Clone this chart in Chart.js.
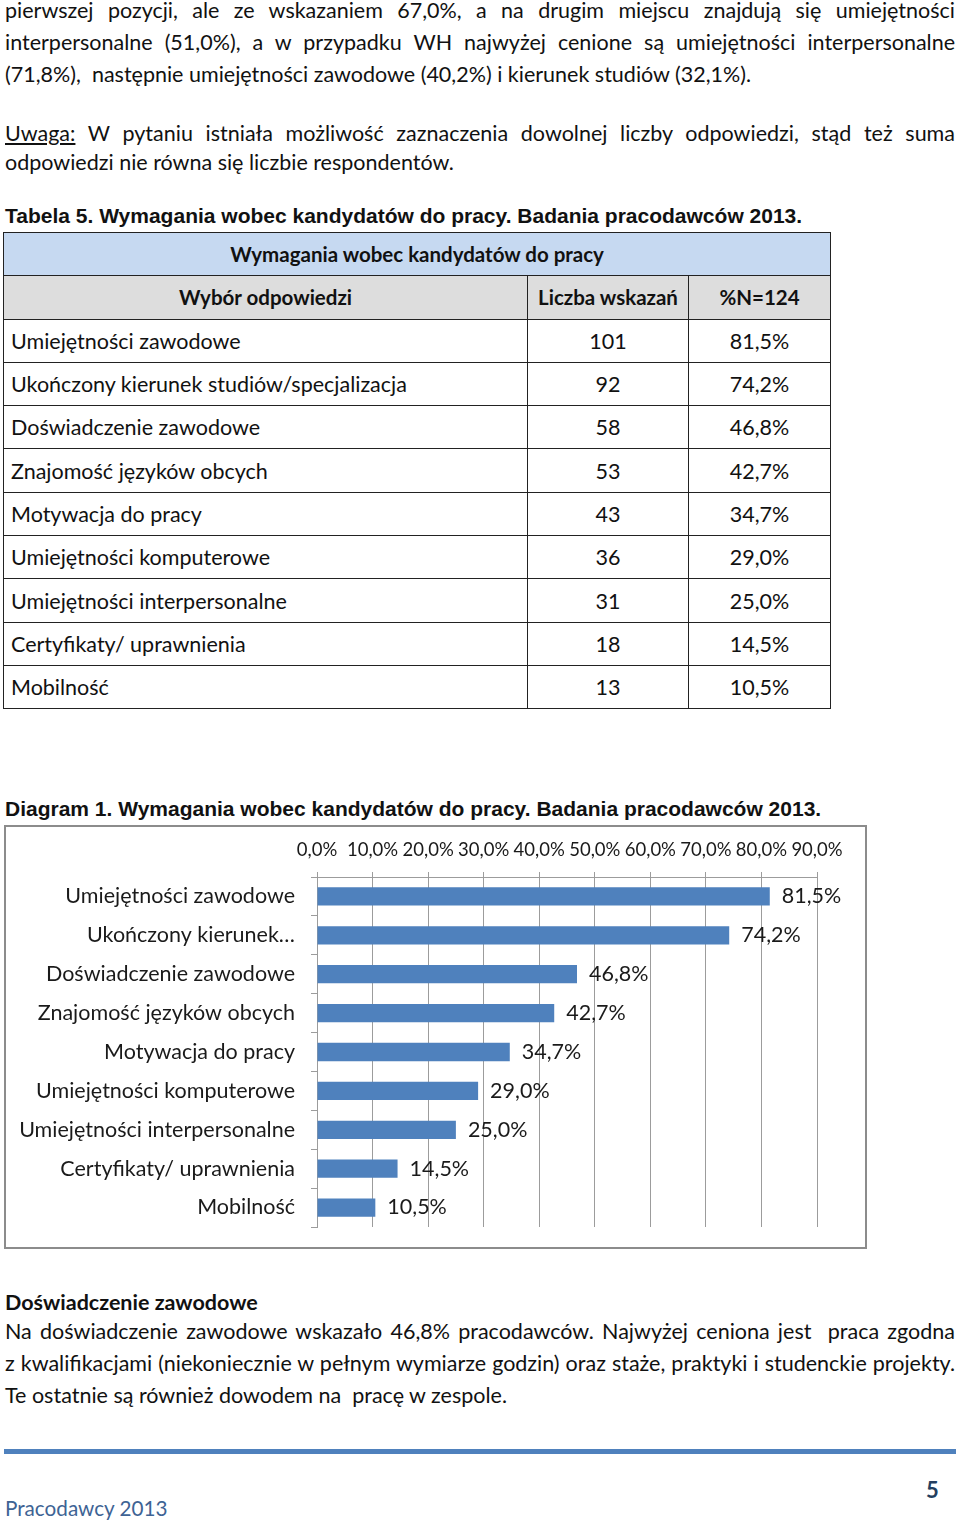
<!DOCTYPE html>
<html lang="pl">
<head>
<meta charset="utf-8">
<title>Wymagania wobec kandydatów do pracy</title>
<script src="https://cdn.jsdelivr.net/npm/chart.js@4.4.1/dist/chart.umd.min.js"></script>
<style>
    html, body { margin: 0; padding: 0; background: #fff; }
    body { width: 960px; height: 1524px; position: relative; overflow: hidden;
           font-family: Lato, "Open Sans", sans-serif; color: #111; }
    .blk { position: absolute; left: 5px; width: 950px; font-size: 21.5px; }
    .just { text-align: justify; text-align-last: justify; }
    .caption { position: absolute; left: 5px; font-family: "Liberation Sans", Arial, sans-serif;
               font-weight: bold; font-size: 21px; line-height: 24px; color: #111; }
    #reqTable { position: absolute; left: 3px; top: 232px; border-collapse: collapse;
                width: 828px; font-size: 21.5px; table-layout: fixed; }
    #reqTable tr { height: 43.3px; }
    #reqTable td, #reqTable th { border: 1px solid #222; padding: 0 7px; white-space: nowrap; }
    #reqTable th { font-weight: bold; text-align: center; font-size: 20.5px; padding: 0 2px; }
    #reqTable .h1 th { background: #c6d9f1; }
    #reqTable .h2 th { background: #dddddd; }
    #reqTable td.num { text-align: center; }
    #chartBox { position: absolute; left: 4px; top: 825px; width: 863px; height: 424px;
                border: 2px solid #8c8c8c; box-sizing: border-box; }
    #diagChart { position: absolute; left: 0; top: 820px; }
    #footLine { position: absolute; left: 4px; top: 1449px; width: 952px; height: 5px; background: #4f81bd; }
    #pageNo { position: absolute; left: 926px; top: 1476px; font-weight: bold; font-size: 22px; color: #243f60; }
    #footer { position: absolute; left: 5px; top: 1496px; font-size: 20.7px; color: #3e6394; }
</style>
</head>
<body>

<div class="blk" style="top:-6px; line-height:32px;">
    <div class="just">pierwszej pozycji, ale ze wskazaniem 67,0%, a na drugim miejscu znajdują się umiejętności</div>
    <div class="just">interpersonalne (51,0%), a w przypadku WH najwyżej cenione są umiejętności interpersonalne</div>
    <div>(71,8%), &nbsp;następnie umiejętności zawodowe (40,2%) i kierunek studiów (32,1%).</div>
</div>

<div class="blk" style="top:119px; line-height:29px;">
    <div class="just"><u>Uwaga:</u> W pytaniu istniała możliwość zaznaczenia dowolnej liczby odpowiedzi, stąd też suma</div>
    <div>odpowiedzi nie równa się liczbie respondentów.</div>
</div>

<div class="caption" style="top:204px;">Tabela 5. Wymagania wobec kandydatów do pracy. Badania pracodawców 2013.</div>

<table id="reqTable">
    <colgroup><col style="width:524px"><col style="width:161px"><col style="width:142px"></colgroup>
    <thead>
        <tr class="h1"><th colspan="3">Wymagania wobec kandydatów do pracy</th></tr>
        <tr class="h2"><th>Wybór odpowiedzi</th><th>Liczba wskazań</th><th>%N=124</th></tr>
    </thead>
    <tbody></tbody>
</table>

<div class="caption" style="top:797px;">Diagram 1. Wymagania wobec kandydatów do pracy. Badania pracodawców 2013.</div>

<div id="chartBox"></div>
<canvas id="diagChart" width="960" height="440" style="width:960px;height:440px;"></canvas>

<div class="blk" style="top:1286px; line-height:32px; font-weight:bold;">Doświadczenie zawodowe</div>
<div class="blk" style="top:1315px; line-height:32px;">
    <div class="just">Na doświadczenie zawodowe wskazało 46,8% pracodawców. Najwyżej ceniona jest &nbsp;praca zgodna</div>
    <div class="just">z kwalifikacjami (niekoniecznie w pełnym wymiarze godzin) oraz staże, praktyki i studenckie projekty.</div>
    <div>Te ostatnie są również dowodem na &nbsp;pracę w zespole.</div>
</div>

<div id="footLine"></div>
<div id="pageNo">5</div>
<div id="footer">Pracodawcy 2013</div>

<script>
// table data
const tableLabels = [
    "Umiejętności zawodowe",
    "Ukończony kierunek studiów/specjalizacja",
    "Doświadczenie zawodowe",
    "Znajomość języków obcych",
    "Motywacja do pracy",
    "Umiejętności komputerowe",
    "Umiejętności interpersonalne",
    "Certyfikaty/ uprawnienia",
    "Mobilność"
];
const counts = [101, 92, 58, 53, 43, 36, 31, 18, 13];

// chart data
const categories = [
    "Umiejętności zawodowe",
    "Ukończony kierunek…",
    "Doświadczenie zawodowe",
    "Znajomość języków obcych",
    "Motywacja do pracy",
    "Umiejętności komputerowe",
    "Umiejętności interpersonalne",
    "Certyfikaty/ uprawnienia",
    "Mobilność"
];
const percents = [81.5, 74.2, 46.8, 42.7, 34.7, 29.0, 25.0, 14.5, 10.5];
const axisMax = 90;
const axisStep = 10;

function fmtPct(v) {
    return v.toFixed(1).replace(".", ",") + "%";
}

function renderTable() {
    const tbody = document.querySelector("#reqTable tbody");
    tableLabels.forEach((label, i) => {
        const row = document.createElement("tr");

        const nameCell = document.createElement("td");
        nameCell.textContent = label;

        const countCell = document.createElement("td");
        countCell.className = "num";
        countCell.textContent = counts[i];

        const pctCell = document.createElement("td");
        pctCell.className = "num";
        pctCell.textContent = fmtPct(percents[i]);

        row.appendChild(nameCell);
        row.appendChild(countCell);
        row.appendChild(pctCell);
        tbody.appendChild(row);
    });
}

// value labels right of each bar
const barValueLabels = {
    id: "barValueLabels",
    afterDatasetsDraw(chart) {
        const ctx = chart.ctx;
        const meta = chart.getDatasetMeta(0);
        ctx.save();
        ctx.font = "21.5px Lato";
        ctx.fillStyle = "#1a1a1a";
        ctx.textAlign = "left";
        ctx.textBaseline = "middle";
        meta.data.forEach((bar, i) => {
            ctx.fillText(fmtPct(percents[i]), bar.x + 12, bar.y);
        });
        ctx.restore();
    }
};

function renderChart() {
    const ctx = document.getElementById("diagChart").getContext("2d");
    new Chart(ctx, {
        type: "bar",
        data: {
            labels: categories,
            datasets: [{
                data: percents,
                backgroundColor: "#4f81bd",
                barPercentage: 0.47,
                categoryPercentage: 1
            }]
        },
        options: {
            indexAxis: "y",
            responsive: false,
            animation: false,
            devicePixelRatio: 1,
            layout: { padding: { left: 0, right: 143, top: 0, bottom: 33 } },
            plugins: { legend: { display: false }, tooltip: { enabled: false } },
            scales: {
                x: {
                    position: "top",
                    min: 0,
                    max: axisMax,
                    afterFit: s => { s.height = 57; },
                    ticks: {
                        stepSize: axisStep,
                        padding: 11,
                        maxRotation: 0,
                        minRotation: 0,
                        autoSkip: false,
                        color: "#1a1a1a",
                        font: { family: "Lato", size: 18.5 },
                        callback: v => fmtPct(v)
                    },
                    grid: { color: "#9c9c9c", tickLength: 5, lineWidth: 1 },
                    border: { color: "#9c9c9c" }
                },
                y: {
                    afterFit: s => { s.width = 317; },
                    ticks: {
                        padding: 16,
                        color: "#1a1a1a",
                        font: { family: "Lato", size: 21.5 }
                    },
                    grid: { drawOnChartArea: false, tickLength: 6, color: "#9c9c9c", offset: true },
                    border: { color: "#9c9c9c" }
                }
            }
        },
        plugins: [barValueLabels]
    });
}

window.addEventListener("DOMContentLoaded", () => {
    renderTable();
    renderChart();
});
</script>
</body>
</html>
